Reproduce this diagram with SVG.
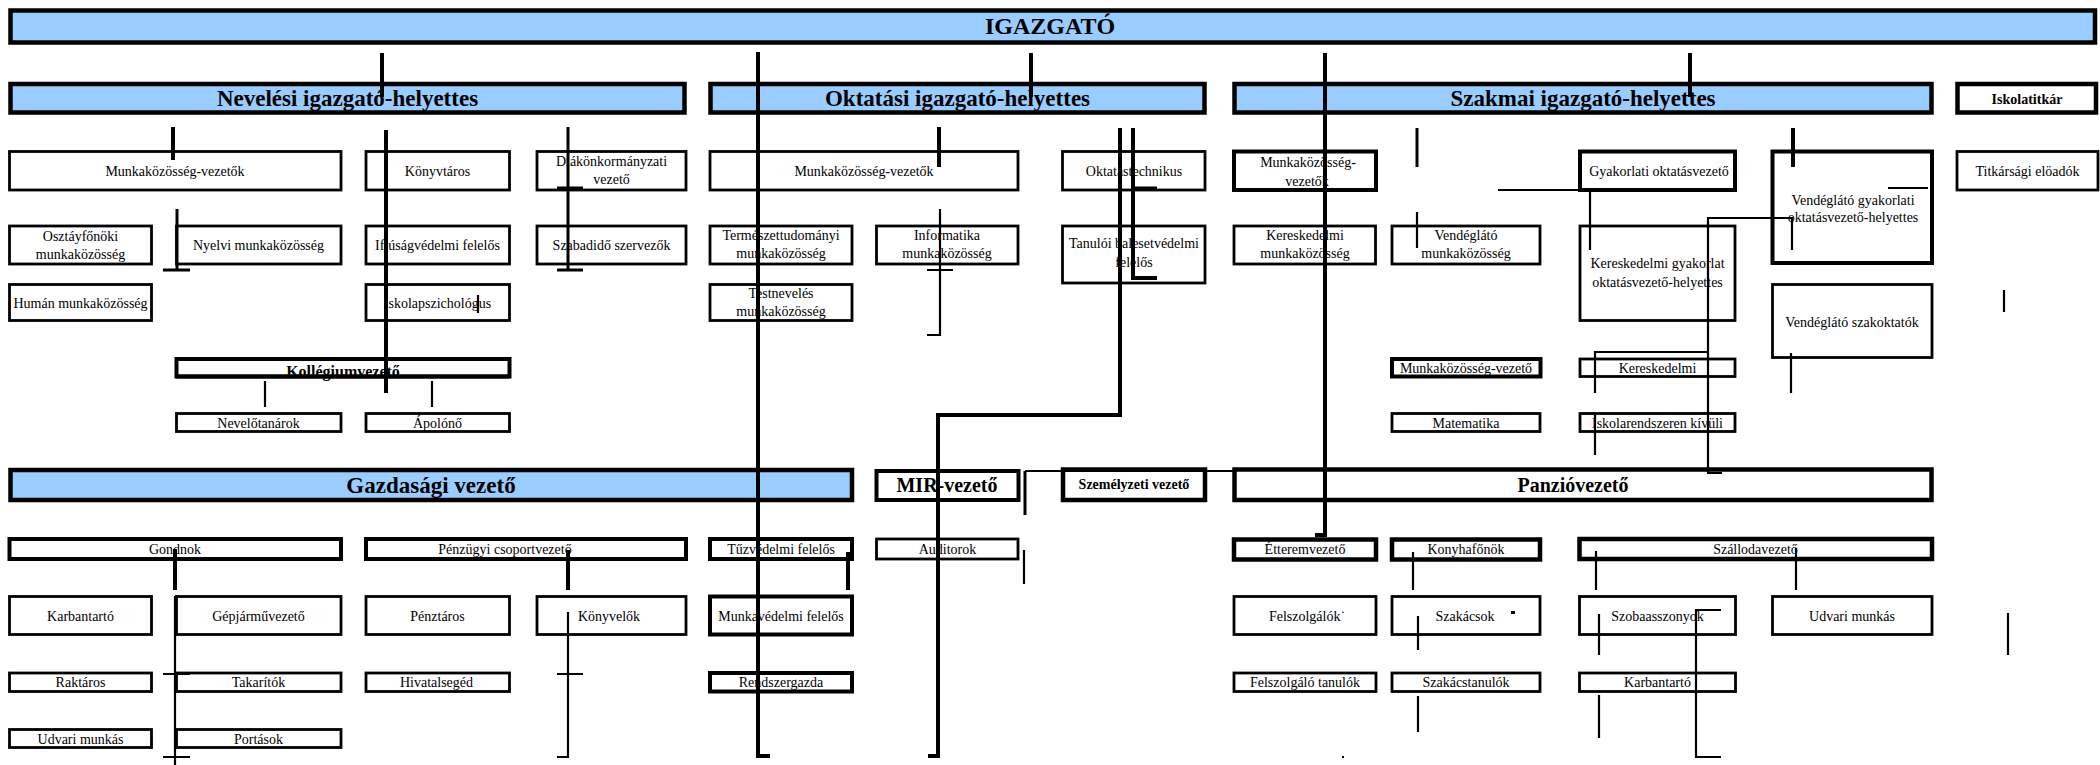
<svg xmlns="http://www.w3.org/2000/svg" width="2100" height="765" viewBox="0 0 2100 765">
<style>
.hdr{fill:#99CCFF;stroke:#000;stroke-width:4.5}
.hw{fill:#fff;stroke:#000;stroke-width:4.5}
.b{fill:#fff;stroke:#000;stroke-width:2.8}
.b4{fill:#fff;stroke:#000;stroke-width:4}
text{font-family:"Liberation Serif","Times New Roman",serif;fill:#000;text-anchor:middle}
.t{font-size:14px}
.tb{font-size:14px;font-weight:bold}
.h{font-size:23px;font-weight:bold}
.m{font-size:20px;font-weight:bold}
.c4{stroke:#000;stroke-width:4;fill:none}
.c3{stroke:#000;stroke-width:3;fill:none}
.c2{stroke:#000;stroke-width:2.2;fill:none}
</style>
<rect width="2100" height="765" fill="#fff"/>
<g id="nodes">
<g id="igazgato"><rect class="hdr" x="10.5" y="10.5" width="2084.5" height="32"/><text class="h" style="font-size:24px" x="1050" y="34">IGAZGATÓ</text></g>
<g id="nevelesi"><rect class="hdr" x="10.5" y="84" width="674" height="28.5"/><text class="h" x="347.5" y="106">Nevelési igazgató-helyettes</text></g>
<g id="oktatasi"><rect class="hdr" x="710.5" y="84" width="494" height="28.5"/><text class="h" x="957.5" y="106">Oktatási igazgató-helyettes</text></g>
<g id="szakmai"><rect class="hdr" x="1234.5" y="84" width="697" height="28.5"/><text class="h" x="1583" y="106">Szakmai igazgató-helyettes</text></g>
<g id="iskolatitkar"><rect class="hw" x="1957.5" y="84" width="138.5" height="28.5"/><text class="tb" x="2027" y="104">Iskolatitkár</text></g>

<g id="nev-mkv"><rect class="b" x="9.5" y="151.5" width="331.5" height="38.5"/><text class="t" x="175" y="176">Munkaközösség-vezetők</text></g>
<g id="konyvtaros"><rect class="b" x="366" y="151.5" width="143.5" height="38.5"/><text class="t" x="437.5" y="176">Könyvtáros</text></g>
<g id="diak"><rect class="b" x="537" y="151.5" width="149" height="38.5"/><text class="t" x="611.5" y="166">Diákönkormányzati</text><text class="t" x="611.5" y="184">vezető</text></g>
<g id="okt-mkv"><rect class="b" x="710" y="151.5" width="308" height="38.5"/><text class="t" x="864" y="176">Munkaközösség-vezetők</text></g>
<g id="oktatastech"><rect class="b" x="1062.5" y="151.5" width="142.5" height="38.5"/><text class="t" x="1134" y="176">Oktatástechnikus</text></g>
<g id="szak-mkv"><rect class="b4" x="1234" y="151.5" width="142" height="38.5"/><text class="t" x="1308" y="167">Munkaközösség-</text><text class="t" x="1307" y="186">vezetők</text></g>
<g id="gyak"><rect class="b4" x="1580" y="151.5" width="155" height="38.5"/><text class="t" x="1659" y="176">Gyakorlati oktatásvezető</text></g>
<g id="vend-gyak"><rect class="b4" x="1772.5" y="151.5" width="159.5" height="111.5"/><text class="t" x="1853" y="205">Vendéglátó gyakorlati</text><text class="t" x="1853" y="222">oktatásvezető-helyettes</text></g>
<g id="titkarsagi"><rect class="b" x="1957" y="151.5" width="141" height="38.5"/><text class="t" x="2027.5" y="176">Titkársági elöadók</text></g>

<g id="osztaly"><rect class="b" x="9.5" y="226" width="142" height="38"/><text class="t" x="80.5" y="241">Osztáyfőnöki</text><text class="t" x="80.5" y="259">munkaközösség</text></g>
<g id="nyelvi"><rect class="b" x="176.5" y="226" width="164.5" height="38"/><text class="t" x="258.5" y="250">Nyelvi munkaközösség</text></g>
<g id="ifjusag"><rect class="b" x="366" y="226" width="143.5" height="38"/><text class="t" x="437.5" y="250">Ifjúságvédelmi felelős</text></g>
<g id="szabadido"><rect class="b" x="537" y="226" width="149" height="38"/><text class="t" x="611.5" y="250">Szabadidő szervezők</text></g>
<g id="termtud"><rect class="b" x="710" y="226" width="142" height="38"/><text class="t" x="781" y="240">Természettudományi</text><text class="t" x="781" y="258">munkaközösség</text></g>
<g id="informatika"><rect class="b" x="876.5" y="226" width="141.5" height="38"/><text class="t" x="947" y="240">Informatika</text><text class="t" x="947" y="258">munkaközösség</text></g>
<g id="tanuloi"><rect class="b" x="1062.5" y="226" width="142.5" height="57"/><text class="t" x="1134" y="248">Tanulói balesetvédelmi</text><text class="t" x="1134" y="267">felelős</text></g>
<g id="ker-mk"><rect class="b" x="1234" y="226" width="141.5" height="38"/><text class="t" x="1305" y="240">Kereskedelmi</text><text class="t" x="1305" y="258">munkaközösség</text></g>
<g id="vend-mk"><rect class="b" x="1392" y="226" width="148" height="38"/><text class="t" x="1466" y="240">Vendéglátó</text><text class="t" x="1466" y="258">munkaközösség</text></g>
<g id="ker-gyak"><rect class="b" x="1580" y="226" width="155" height="94.5"/><text class="t" x="1657.5" y="268">Kereskedelmi gyakorlat</text><text class="t" x="1657.5" y="287">oktatásvezető-helyettes</text></g>

<g id="human"><rect class="b" x="9.5" y="284.5" width="142" height="36"/><text class="t" x="80.5" y="307.5">Humán munkaközösség</text></g>
<g id="iskolapszich"><rect class="b" x="366" y="284.5" width="143.5" height="36"/><text class="t" x="437.5" y="307.5">Iskolapszichológus</text></g>
<g id="testneveles"><rect class="b" x="710" y="284.5" width="142" height="36"/><text class="t" x="781" y="298">Testnevelés</text><text class="t" x="781" y="316">munkaközösség</text></g>
<g id="vend-szak"><rect class="b" x="1772.5" y="284.5" width="159.5" height="73"/><text class="t" x="1852" y="327">Vendéglátó szakoktatók</text></g>

<g id="kollegium"><rect class="b4" x="176.5" y="359" width="333" height="17.5"/><text class="tb" style="font-size:16px" x="343" y="377">Kollégiumvezető</text><line x1="176.5" y1="376.5" x2="509.5" y2="376.5" class="c4"/></g>
<g id="szak-mkv2"><rect class="b4" x="1392" y="359" width="148.5" height="17.5"/><text class="t" x="1466" y="372.5">Munkaközösség-vezető</text></g>
<g id="kereskedelmi"><rect class="b" x="1580" y="359" width="155" height="17.5"/><text class="t" x="1657.5" y="372.5">Kereskedelmi</text></g>

<g id="nevelotanarok"><rect class="b" x="176.5" y="413.5" width="164.5" height="18"/><text class="t" x="258.5" y="427.5">Nevelőtanárok</text></g>
<g id="apolono"><rect class="b" x="366" y="413.5" width="143.5" height="18"/><text class="t" x="437.5" y="427.5">Ápolónő</text></g>
<g id="matematika"><rect class="b" x="1392" y="413.5" width="148" height="18"/><text class="t" x="1466" y="427.5">Matematika</text></g>
<g id="iskolarendszeren"><rect class="b" x="1580" y="413.5" width="155" height="18"/><text class="t" x="1657.5" y="427.5">Iskolarendszeren kívüli</text></g>

<g id="gazdasagi"><rect class="hdr" x="10.5" y="470" width="841.5" height="30"/><text class="h" x="431" y="493">Gazdasági vezető</text></g>
<g id="mir"><rect class="b4" x="876.5" y="471" width="142" height="29"/><text class="m" x="947" y="492">MIR-vezető</text></g>
<g id="szemelyzeti"><rect class="hw" x="1063" y="469.5" width="142" height="30.5"/><text class="tb" x="1134" y="489">Személyzeti vezető</text></g>
<g id="panzio"><rect class="hw" x="1234.5" y="469.5" width="697" height="30.5"/><text class="m" x="1573" y="492">Panzióvezető</text></g>

<g id="gondnok"><rect class="b4" x="9.5" y="539" width="331.5" height="20"/><text class="t" x="175" y="553.5">Gondnok</text></g>
<g id="penzugyi"><rect class="b4" x="366" y="539" width="320" height="20"/><text class="t" x="505" y="553.5">Pénzügyi csoportvezető</text></g>
<g id="tuzvedelmi"><rect class="b4" x="710" y="539" width="142" height="20"/><text class="t" x="781" y="553.5">Tűzvédelmi felelős</text></g>
<g id="auditorok"><rect class="b" x="876.5" y="539" width="141.5" height="20"/><text class="t" x="947.5" y="553.5">Auditorok</text></g>
<g id="etterem"><rect class="hw" x="1234" y="539.5" width="142" height="20"/><text class="t" x="1305" y="554">Étteremvezető</text></g>
<g id="konyhafonok"><rect class="hw" x="1392" y="539.5" width="148" height="20"/><text class="t" x="1466" y="554">Konyhafőnök</text></g>
<g id="szalloda"><rect class="hw" x="1579.5" y="539" width="352.5" height="20"/><text class="t" x="1755.5" y="553.5">Szállodavezető</text></g>

<g id="karbantarto1"><rect class="b" x="9.5" y="596.5" width="142" height="38"/><text class="t" x="80.5" y="620.5">Karbantartó</text></g>
<g id="gepjarmu"><rect class="b" x="176.5" y="596.5" width="164.5" height="38"/><text class="t" x="258.5" y="620.5">Gépjárművezető</text></g>
<g id="penztaros"><rect class="b" x="366" y="596.5" width="143.5" height="38"/><text class="t" x="437.5" y="620.5">Pénztáros</text></g>
<g id="konyvelok"><rect class="b" x="537" y="596.5" width="149" height="38"/><text class="t" x="609" y="620.5">Könyvelők</text></g>
<g id="munkavedelmi"><rect class="b4" x="710" y="596.5" width="142" height="38"/><text class="t" x="781" y="620.5">Munkavédelmi felelős</text></g>
<g id="felszolgalok"><rect class="b" x="1234" y="596.5" width="142" height="38"/><text class="t" x="1307" y="620.5">Felszolgálók˙</text></g>
<g id="szakacsok"><rect class="b" x="1392" y="596.5" width="148" height="38"/><text class="t" x="1465" y="620.5">Szakácsok</text></g>
<g id="szobaasszonyok"><rect class="b" x="1579.5" y="596.5" width="156" height="38"/><text class="t" x="1657.5" y="620.5">Szobaasszonyok</text></g>
<g id="udvari2"><rect class="b" x="1772.5" y="596.5" width="159.5" height="38"/><text class="t" x="1852" y="620.5">Udvari munkás</text></g>

<g id="raktaros"><rect class="b" x="9.5" y="673" width="142" height="18.5"/><text class="t" x="80.5" y="687">Raktáros</text></g>
<g id="takaritok"><rect class="b" x="176.5" y="673" width="164.5" height="18.5"/><text class="t" x="258.5" y="687">Takarítók</text></g>
<g id="hivatalseged"><rect class="b" x="366" y="673" width="143.5" height="18.5"/><text class="t" x="436.5" y="687">Hivatalsegéd</text></g>
<g id="rendszergazda"><rect class="b4" x="710" y="673" width="142" height="18.5"/><text class="t" x="781" y="687">Rendszergazda</text></g>
<g id="felsz-tanulok"><rect class="b" x="1234" y="673" width="142" height="18.5"/><text class="t" x="1305" y="687">Felszolgáló tanulók</text></g>
<g id="szakacstanulok"><rect class="b" x="1392" y="673" width="148" height="18.5"/><text class="t" x="1466" y="687">Szakácstanulók</text></g>
<g id="karbantarto2"><rect class="b" x="1579.5" y="673" width="156" height="18.5"/><text class="t" x="1657.5" y="687">Karbantartó</text></g>

<g id="udvari1"><rect class="b" x="9.5" y="729.5" width="142" height="18"/><text class="t" x="80.5" y="743.5">Udvari munkás</text></g>
<g id="portasok"><rect class="b" x="176.5" y="729.5" width="164.5" height="18"/><text class="t" x="258.5" y="743.5">Portások</text></g>
</g>
<g id="connectors">
<path class="c4" d="M382 53V97M758 52V756H770M1031 53V97M1325 53V535H1315M1690 53V97M173 127V160M1793 128V167M939 127V167M1120 128V415H938V756H928M175 549V590M568 550V590M848 552V590M386 130V393M1133 128V278H1157"/>
<path class="c3" d="M1417 128V167M568 127V270M557 188H583M557 270H583M177 209V270M163 270H190M1025 471V515M1133 188H1157"/>
<path class="c2" d="M1025 471H1233M940 209V335H927M927 270H953M1417 212V248M1498 190H1590V250M1888 188H1928M1722 473H1708V218H1792V250M1707 352H1595V393M1595 415V455M1791 353V393M2004 290V312M478 295V313M265 381V407M432 381V407M175 596V765M163 674H190M163 757H190M568 612V757H557M557 674H583M1024 550V584M1413 552V590M1418 616V650M1418 696V732M1596 551V590M1796 548V590M1599 614V655M1721 610H1696V757H1721M1599 695V738M2008 613V655"/>
<rect x="1511" y="611" width="4" height="3" fill="#000"/>
<rect x="1342" y="756" width="2" height="2" fill="#000"/>
</g>
</svg>
